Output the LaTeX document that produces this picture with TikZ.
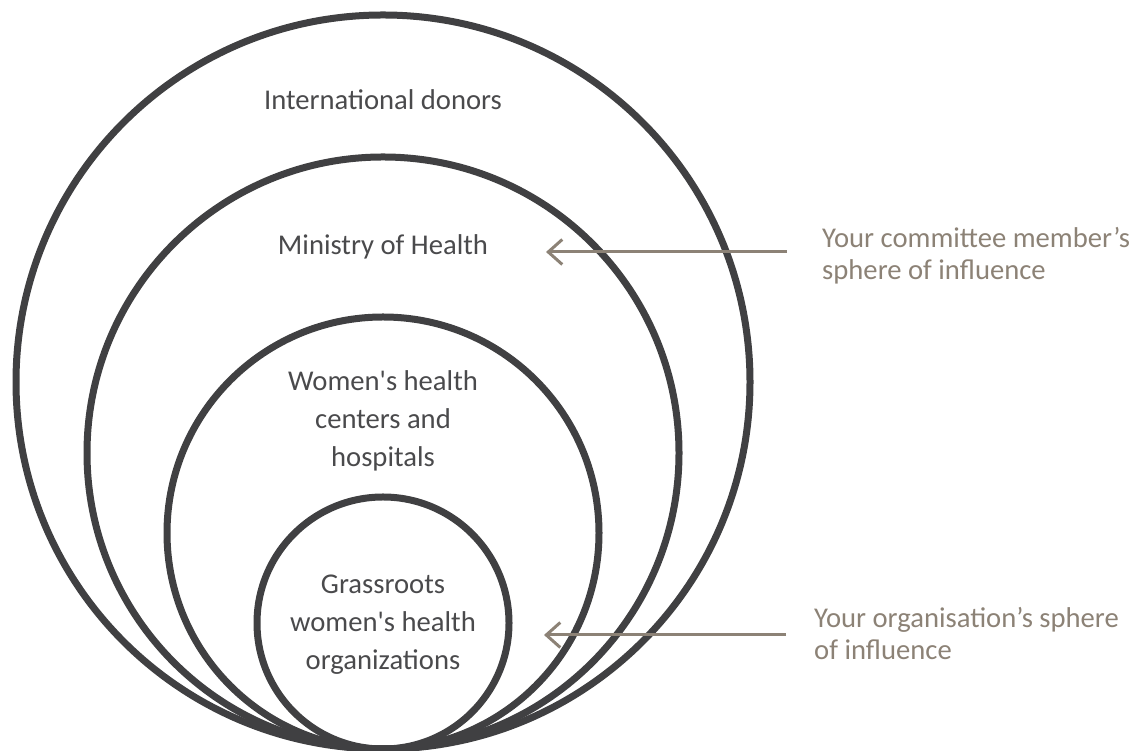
\documentclass[tikz,border=0pt]{standalone}
\usepackage{fontspec}
\setmainfont{Carlito}
\usetikzlibrary{arrows.meta}
\definecolor{ringgray}{HTML}{404042}
\definecolor{textgray}{HTML}{4A4A4C}
\definecolor{taupe}{HTML}{8C8276}
\tikzset{
    ring/.style={circle, draw=ringgray, line width=0.14cm, inner sep=0pt},
    ringlabel/.style={align=center, text=textgray, font=\fontsize{16.3}{21.6}\selectfont},
    sidelabel/.style={align=left, anchor=west, text=taupe, font=\fontsize{16.3}{18.2}\selectfont},
    pointer/.style={draw=taupe, line width=0.06cm, -{Straight Barb[length=0.28cm, width=0.5cm]}}
}
\begin{document}
\begin{tikzpicture}
            \useasboundingbox (0, 0) rectangle (22.72, 15.02);
            \node[ring, minimum size=14.68cm] (r0) at (7.66, 7.38) {};
            \node[ring, minimum size=11.84cm] (r1) at (7.66, 5.96) {};
            \node[ring, minimum size=8.64cm] (r2) at (7.66, 4.36) {};
            \node[ring, minimum size=5.04cm] (r3) at (7.66, 2.56) {};
            \node[ringlabel] (donors) at (7.66, 13.02) {International donors};
            \node[ringlabel] (ministry) at (7.66, 10.08) {Ministry of Health};
            \node[ringlabel] (centers) at (7.66, 6.6) {Women\textquotesingle s health\\centers and\\hospitals};
            \node[ringlabel] (grassroots) at (7.66, 2.52) {Grassroots\\women\textquotesingle s health\\organizations};
            \node[sidelabel] (member) at (16.32, 9.9) {Your committee member’s\\sphere of influence};
            \node[sidelabel] (organisation) at (16.16, 2.34) {Your organisation’s sphere\\of influence};
            \coordinate (m0) at (15.74, 9.98);
            \coordinate (m1) at (10.92, 9.98);
            \coordinate (o0) at (15.72, 2.32);
            \coordinate (o1) at (10.88, 2.32);
            \draw[pointer] (m0) to (m1);
            \draw[pointer] (o0) to (o1);
        \end{tikzpicture}
\end{document}
